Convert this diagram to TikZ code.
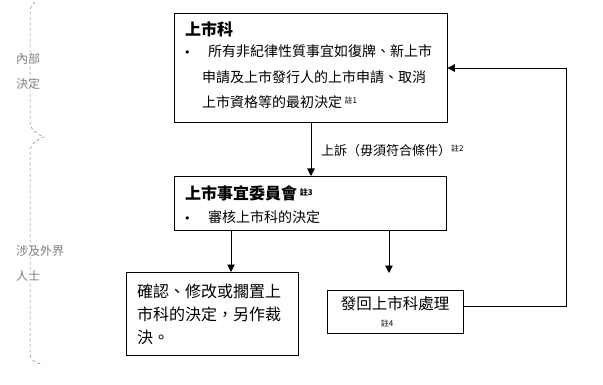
\documentclass[tikz,border=0pt]{standalone}
\usepackage{fontspec}
\setmainfont{Noto Sans CJK TC}
\newfontfamily\bulfont{DejaVu Sans}
\usetikzlibrary{arrows.meta}
\newcommand{\zhu}[1]{{\fontsize{8}{8}\selectfont\raisebox{0.5em}{註#1}}}
\tikzset{
  box/.style={draw=black, line width=0.8pt, inner sep=0pt},
  line/.style={draw=black, line width=0.8pt},
  arr/.style={line, -{Triangle[width=7.5pt,length=7.5pt]}},
  txt/.style={inner sep=0pt, anchor=west, text height=0.88em, text depth=0.12em},
  bul/.style={inner sep=0pt, anchor=west, font=\bulfont\fontsize{11}{11}\selectfont},
  side/.style={txt, text=gray, fill=white, font=\fontsize{12}{12}\selectfont},
  brace/.style={draw=gray, line width=0.5pt, dash pattern=on 3pt off 2.5pt}
}
\begin{document}
\begin{tikzpicture}[x=1pt,y=-1pt]
\useasboundingbox (0,0) rectangle (603,385);
% dashed brace
\draw[brace] (35,2) .. controls (31,5) and (30,8) .. (30,14) -- (30,122)
  .. controls (30,130) and (38,135) .. (44,137)
  .. controls (38,139) and (30,144) .. (30,152) -- (30,354)
  .. controls (30,360) and (36,364) .. (43,364);
% side labels
\node[side] (s1) at (16,60) {內部};
\node[side] (s2) at (16,85) {決定};
\node[side] (s3) at (16,252) {涉及外界};
\node[side] (s4) at (16,277) {人士};
% boxes
\node[box, minimum width=273pt, minimum height=109pt] (b1) at (310.5,67.5) {};
\node[box, minimum width=272pt, minimum height=54pt] (b2) at (310,203) {};
\node[box, minimum width=172pt, minimum height=83pt] (b3) at (212,313.5) {};
\node[box, minimum width=136pt, minimum height=43pt] (b4) at (395,311.5) {};
% box 1 text
\node[txt, font=\bfseries\fontsize{16}{16}\selectfont] (t1) at (185,32) {上市科};
\node[bul] (t1b) at (184,54) {•};
\node[txt, font=\fontsize{14}{14}\selectfont] (t1a) at (208,53) {所有非紀律性質事宜如復牌、新上市};
\node[txt, font=\fontsize{14}{14}\selectfont] (t1c) at (202,79) {申請及上市發行人的上市申請、取消};
\node[txt, font=\fontsize{14}{14}\selectfont] (t1d) at (202,104) {上市資格等的最初決定\,\zhu{1}};
% box 2 text
\node[txt, font=\bfseries\fontsize{16}{16}\selectfont] (t2) at (185,196) {上市事宜委員會\,\zhu{3}};
\node[bul] (t2b) at (184,220) {•};
\node[txt, font=\fontsize{14}{14}\selectfont] (t2a) at (208,219) {審核上市科的決定};
% box 3 text
\node[txt, font=\fontsize{16}{16}\selectfont] (t3a) at (137,294) {確認、修改或擱置上};
\node[txt, font=\fontsize{16}{16}\selectfont] (t3b) at (137,317) {市科的決定，另作裁};
\node[txt, font=\fontsize{16}{16}\selectfont] (t3c) at (137,340) {決。};
% box 4 text
\node[txt, anchor=center, font=\fontsize{15.5}{15.5}\selectfont] (t4) at (395,306) {發回上市科處理};
\node[inner sep=0pt, font=\fontsize{8}{8}\selectfont] (t4n) at (387,323) {註4};
% connectors
\coordinate (a2) at (311,176);
\draw[arr] (b1.south -| a2) -- (a2);
\node[txt, font=\fontsize{13}{13}\selectfont] (lab) at (321,152) {上訴（毋須符合條件）\zhu{2}};
\coordinate (l3) at (231,230);
\draw[arr] (l3) -- (231,272);
\coordinate (l4) at (389,230);
\coordinate (e4) at (389,273);
\draw[arr] (l4) -- (e4);
\coordinate (c1) at (566,306);
\coordinate (c2) at (566,68);
\draw[arr] (b4.east |- c1) -- (c1) -- (c2) -- (b1.east |- c2);
\end{tikzpicture}
\end{document}
